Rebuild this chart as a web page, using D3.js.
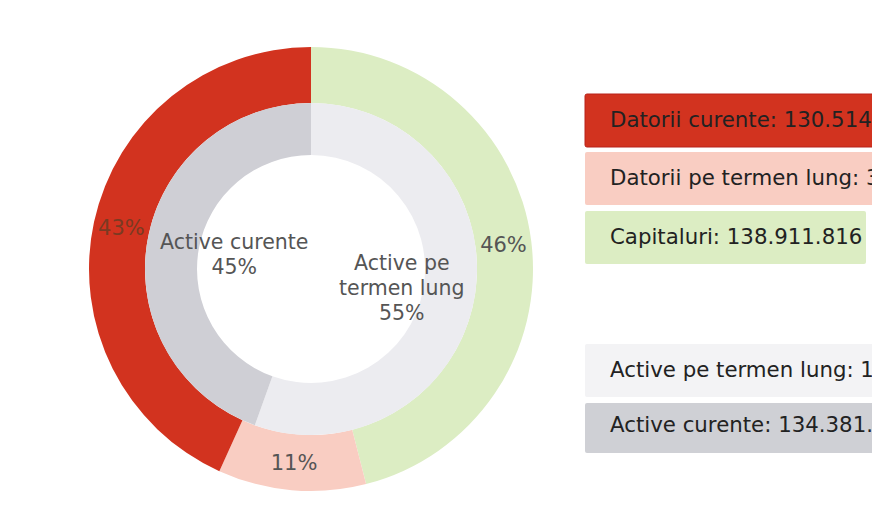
<!DOCTYPE html>
<html>
<head>
<meta charset="utf-8">
<script src="https://cdn.jsdelivr.net/npm/d3@7"></script>
<style>
  body { margin: 0; background: #fff; }
  svg { display: block; font-family: "DejaVu Sans", Verdana, sans-serif; }
</style>
</head>
<body>
<div id="chart"></div>
<script>
// Pasive (outer ring), clockwise from top
const pasiveNames = ["Capitaluri", "Datorii pe termen lung", "Datorii curente"];
const pasiveValues = [138911816, 32500000, 130514000];
const pasiveColors = ["#dcedc3", "#f9cdc2", "#d2331f"];

// Active (inner ring), clockwise from top
const activeNames = ["Active pe termen lung", "Active curente"];
const activeValues = [167550000, 134381700];
const activeColors = ["#ececf0", "#cfcfd5"];

// Legend rows (texts run past the right edge of the page, as in the original)
const legendTexts = [
  "Datorii curente: 130.514.000",
  "Datorii pe termen lung: 32.500.000",
  "Capitaluri: 138.911.816",
  "Active pe termen lung: 167.550.000",
  "Active curente: 134.381.700"
];
const legendColors = ["#d2331f", "#f9cdc2", "#dcedc3", "#f3f3f5", "#cfd0d5"];

const w = 872;
const h = 506;
const cx = 311;
const cy = 269;

const svg = d3.select("#chart")
    .append("svg")
    .attr("width", w)
    .attr("height", h);

const pie = d3.pie().sort(null).value(d => d);

const g = svg.append("g").attr("transform", `translate(${cx}, ${cy})`);

// Outer ring
const outerArc = d3.arc().innerRadius(166).outerRadius(222);
const outerData = pie(pasiveValues);
const totalP = d3.sum(pasiveValues);

g.selectAll(".outer")
    .data(outerData)
    .enter()
    .append("path")
    .attr("class", "outer")
    .attr("d", outerArc)
    .attr("fill", (d, i) => pasiveColors[i]);

const outerLabel = d3.arc().innerRadius(194).outerRadius(194);
g.selectAll(".outer-label")
    .data(outerData)
    .enter()
    .append("text")
    .attr("class", "outer-label")
    .attr("transform", d => `translate(${outerLabel.centroid(d)})`)
    .attr("text-anchor", "middle")
    .attr("dy", "0.35em")
    .attr("font-size", 21)
    .attr("fill", (d, i) => i === 2 ? "#7a3a22" : "#555")
    .text(d => Math.round(d.value / totalP * 100) + "%");

// Inner ring
const innerArc = d3.arc().innerRadius(114).outerRadius(166);
const innerData = pie(activeValues);
const totalA = d3.sum(activeValues);

g.selectAll(".inner")
    .data(innerData)
    .enter()
    .append("path")
    .attr("class", "inner")
    .attr("d", innerArc)
    .attr("fill", (d, i) => activeColors[i]);

// Inner labels sit inside the hole
const innerLabel = d3.arc().innerRadius(84).outerRadius(84);
const innerLines = [["Active pe", "termen lung"], ["Active curente"]];
const innerShift = [[8, 12], [6, 7]];

innerData.forEach((d, i) => {
    const [x, y] = innerLabel.centroid(d);
    const lines = innerLines[i].concat(Math.round(d.value / totalA * 100) + "%");
    const t = g.append("text")
        .attr("text-anchor", "middle")
        .attr("font-size", 20.5)
        .attr("fill", "#555");
    lines.forEach((s, j) => {
        t.append("tspan")
            .attr("x", x + innerShift[i][0])
            .attr("y", y + (j - (lines.length - 1) / 2) * 25 + innerShift[i][1])
            .text(s);
    });
});

// Legend
const legendY = [94, 152, 211, 344, 403];
const legend = svg.append("g").attr("id", "legend");

legendTexts.forEach((s, i) => {
    legend.append("rect")
        .attr("x", 585)
        .attr("y", legendY[i])
        .attr("width", i === 2 ? 281 : 300)
        .attr("height", i === 4 ? 50 : 53)
        .attr("rx", 2)
        .attr("fill", legendColors[i])
        .attr("stroke", i === 0 ? "#b8231a" : "none");

    legend.append("text")
        .attr("x", 610)
        .attr("y", legendY[i] + (i === 4 ? 29 : 33))
        .attr("font-size", 21.3)
        .attr("fill", "#222")
        .text(s);
});
</script>
</body>
</html>
